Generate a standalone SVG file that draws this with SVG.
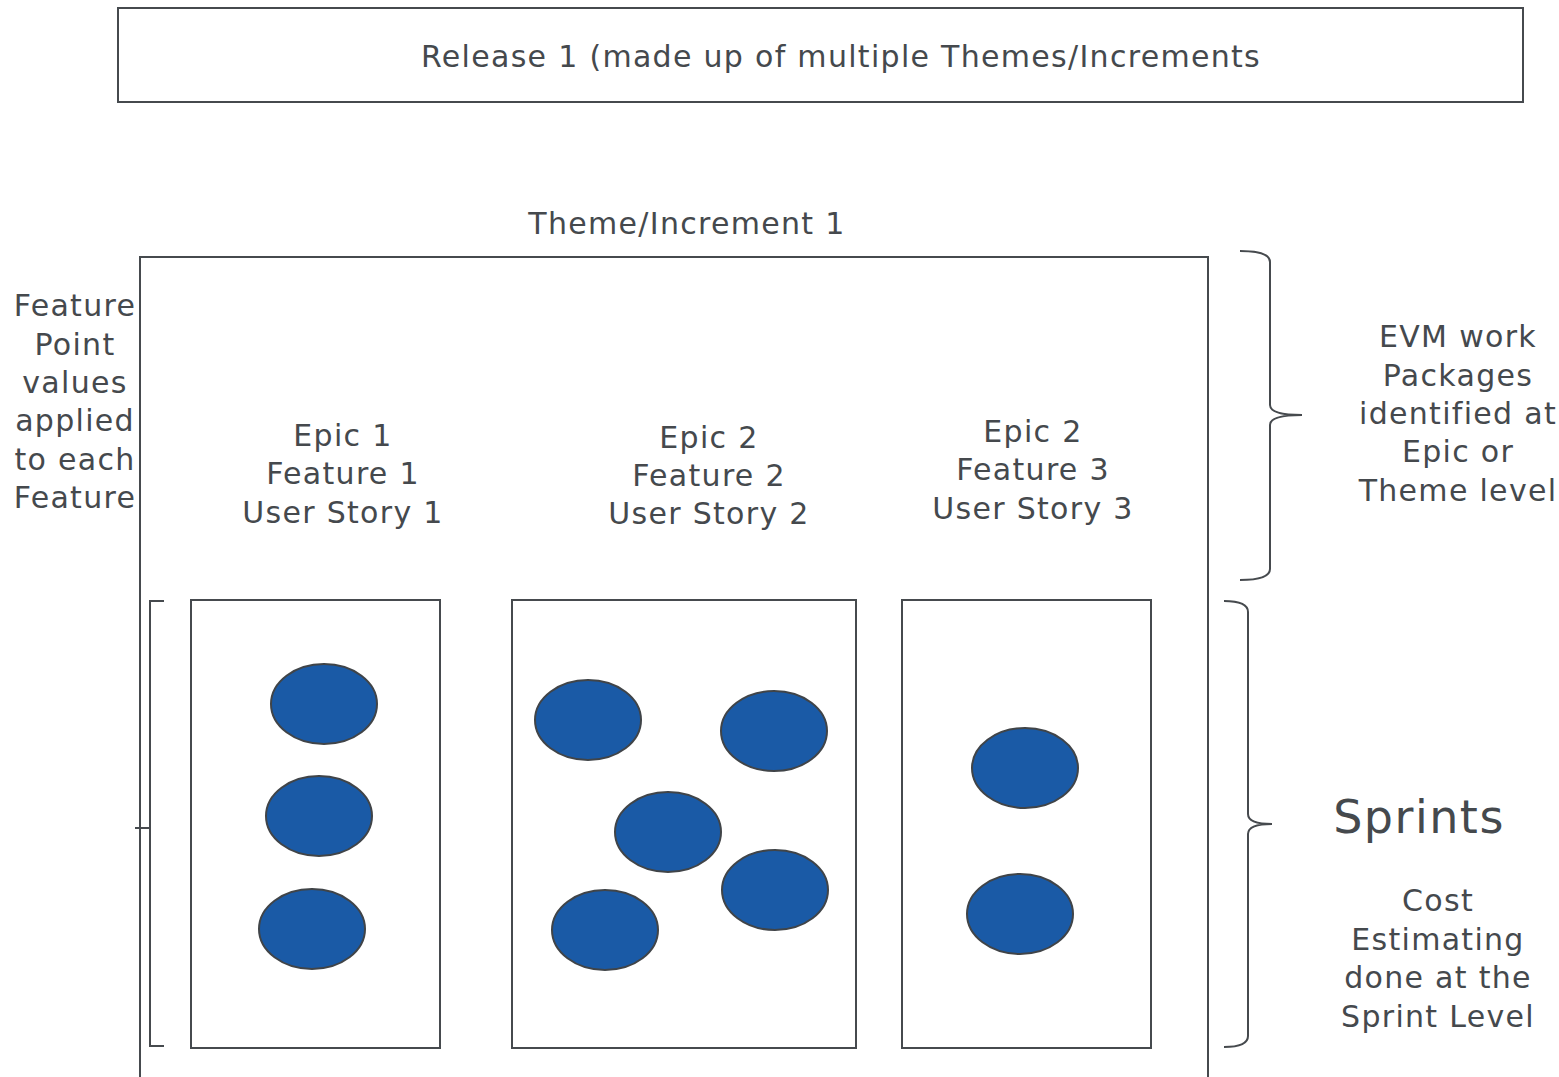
<svg xmlns="http://www.w3.org/2000/svg" width="1559" height="1077" viewBox="0 0 1559 1077">
  <style>
    .box { fill: #ffffff; stroke: #464a4e; stroke-width: 2; }
    .line { fill: none; stroke: #464a4e; stroke-width: 2; }
    .story { fill: #1a5aa6; stroke: #404448; stroke-width: 2; }
    text { font-family: "DejaVu Sans", Verdana, sans-serif; font-size: 30px; letter-spacing: 1.3px; fill: #45494d; text-anchor: middle; }
    .big { font-size: 46px; letter-spacing: 1.5px; }
  </style>
  <rect width="1559" height="1077" fill="#ffffff"/>

  <g id="release">
    <rect class="box" x="118" y="8" width="1405" height="94"/>
    <text x="841" y="67">Release 1 (made up of multiple Themes/Increments</text>
  </g>

  <g id="theme">
    <text x="687" y="234">Theme/Increment 1</text>
    <path class="line" d="M140,1080 V257 H1208 V1080"/>
  </g>

  <g id="feature-points">
    <text x="75" y="316">Feature</text>
    <text x="75" y="355">Point</text>
    <text x="75" y="393">values</text>
    <text x="75" y="431">applied</text>
    <text x="75" y="470">to each</text>
    <text x="75" y="508">Feature</text>
  </g>

  <g id="epic1">
    <text x="343" y="446">Epic 1</text>
    <text x="343" y="484">Feature 1</text>
    <text x="343" y="523">User Story 1</text>
  </g>
  <g id="epic2">
    <text x="709" y="448">Epic 2</text>
    <text x="709" y="486">Feature 2</text>
    <text x="709" y="524">User Story 2</text>
  </g>
  <g id="epic3">
    <text x="1033" y="442">Epic 2</text>
    <text x="1033" y="480">Feature 3</text>
    <text x="1033" y="519">User Story 3</text>
  </g>

  <g id="sprint1">
    <rect class="box" x="191" y="600" width="249" height="448"/>
    <ellipse class="story" cx="324" cy="704" rx="53" ry="40"/>
    <ellipse class="story" cx="319" cy="816" rx="53" ry="40"/>
    <ellipse class="story" cx="312" cy="929" rx="53" ry="40"/>
  </g>
  <g id="sprint2">
    <rect class="box" x="512" y="600" width="344" height="448"/>
    <ellipse class="story" cx="588" cy="720" rx="53" ry="40"/>
    <ellipse class="story" cx="774" cy="731" rx="53" ry="40"/>
    <ellipse class="story" cx="668" cy="832" rx="53" ry="40"/>
    <ellipse class="story" cx="775" cy="890" rx="53" ry="40"/>
    <ellipse class="story" cx="605" cy="930" rx="53" ry="40"/>
  </g>
  <g id="sprint3">
    <rect class="box" x="902" y="600" width="249" height="448"/>
    <ellipse class="story" cx="1025" cy="768" rx="53" ry="40"/>
    <ellipse class="story" cx="1020" cy="914" rx="53" ry="40"/>
  </g>

  <g id="evm">
    <text x="1458" y="347">EVM work</text>
    <text x="1458" y="386">Packages</text>
    <text x="1458" y="424">identified at</text>
    <text x="1458" y="462">Epic or</text>
    <text x="1458" y="501">Theme level</text>
  </g>

  <g id="sprints-label">
    <text class="big" x="1419" y="833">Sprints</text>
    <text x="1438" y="911">Cost</text>
    <text x="1438" y="950">Estimating</text>
    <text x="1438" y="988">done at the</text>
    <text x="1438" y="1027">Sprint Level</text>
  </g>

  <g id="connectors">
    <!-- square bracket spanning the sprint boxes, with its side tick -->
    <path class="line" d="M164,601 H150 V1046 H164"/>
    <path class="line" d="M135,828 H150"/>
    <!-- brace over the epic/theme area -->
    <path class="line" d="M1240,251 Q1270,251 1270,262 V405 Q1270,415 1302,415 Q1270,415 1270,425 V569 Q1270,580 1240,580"/>
    <!-- brace over the sprint area -->
    <path class="line" d="M1224,601 Q1248,601 1248,612 V814 Q1248,824 1272,824 Q1248,824 1248,834 V1036 Q1248,1047 1224,1047"/>
  </g>
</svg>
